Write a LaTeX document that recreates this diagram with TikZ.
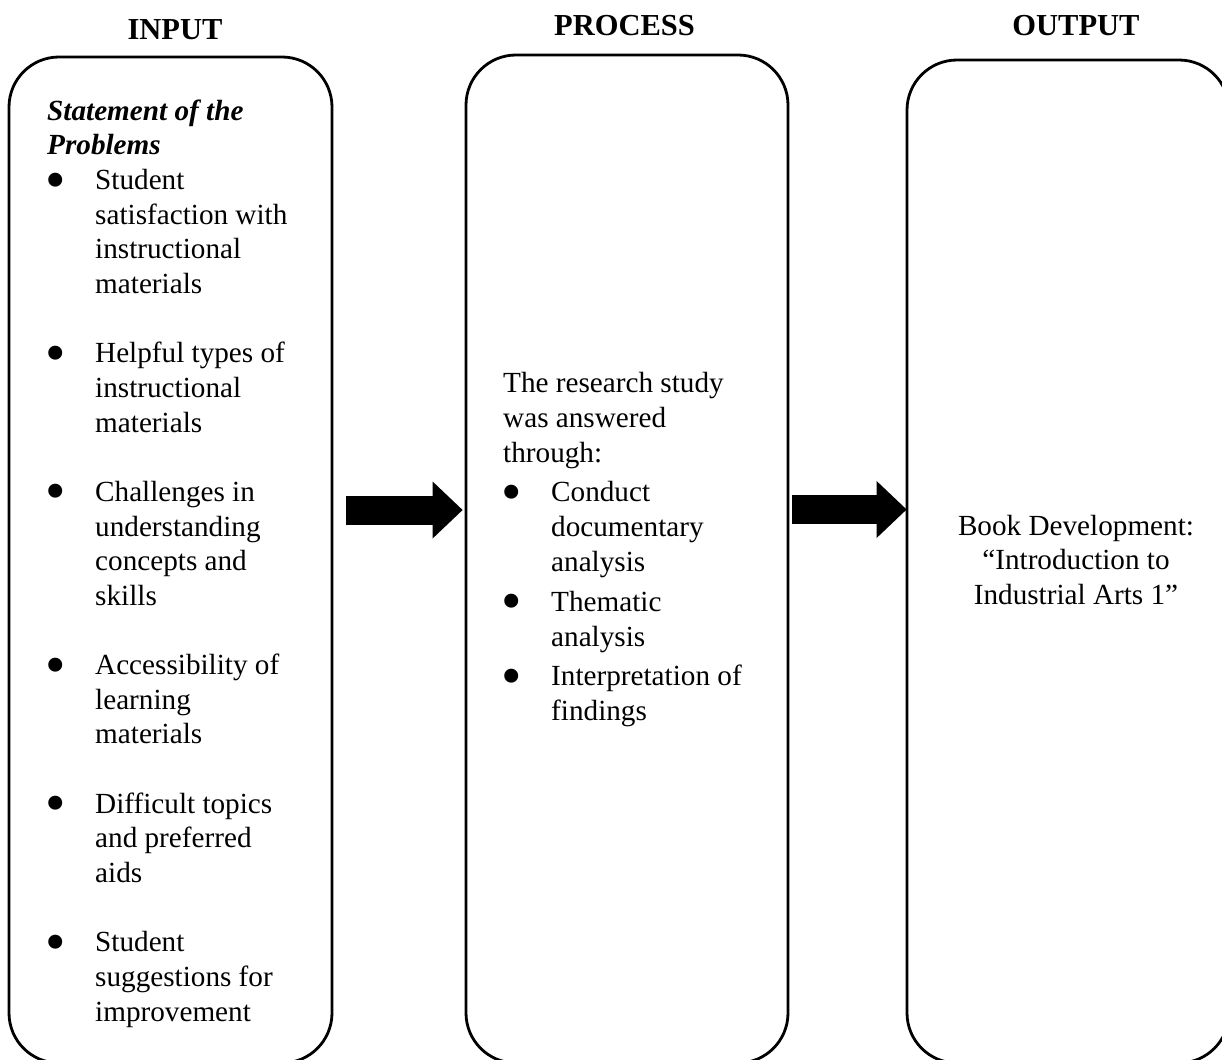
\documentclass[tikz,border=0pt]{standalone}
\usepackage{fontspec}
\usepackage{graphicx}
\setmainfont{Liberation Serif}
\usetikzlibrary{arrows.meta}

% bullet and hanging indent used in the lists
\newcommand\bulletglyph{\hspace*{-1.5pt}\smash{\raisebox{-9.5pt}{\scalebox{2.0}{\textbullet}}}}
\newcommand\bul{\makebox[48pt][l]{\bulletglyph}}
\newcommand\ind{\hspace*{48pt}}
\newcommand\firstline{\rule{0pt}{30pt}}

\begin{document}
\begin{tikzpicture}[x=1pt,y=-1pt,
  panel/.style={draw, line width=2.8pt, rounded corners=50pt, inner sep=0pt},
  head/.style={font=\fontsize{30.5}{34}\selectfont\bfseries, inner sep=0pt, anchor=base},
  body/.style={font=\fontsize{29.2}{34.65}\selectfont, inner sep=0pt, align=left, anchor=north west},
  blockarrow/.style={line width=29pt, -{Triangle[length=30pt,width=57pt,line width=0pt]}}]

\useasboundingbox (0,0) rectangle (1222,1059);
\clip (0,0) rectangle (1222,1059);
\fill[white] (0,0) rectangle (1222,1059);

% column headings
\node[head] (hin)   at (175,40)    {INPUT};
\node[head] (hproc) at (624.5,36)  {PROCESS};
\node[head] (hout)  at (1076,36)   {OUTPUT};

% the three rounded panels
\node[panel, minimum width=323pt, minimum height=1006pt] (inbox)   at (170.5,560) {};
\node[panel, minimum width=322pt, minimum height=1008pt] (procbox) at (627,559)   {};
\node[panel, minimum width=322pt, minimum height=1003pt] (outbox)  at (1068,561.5) {};

% input panel text
\node[body] (intext) at (47,90) {%
\firstline\textbf{\textit{Statement of the}}\\
\textbf{\textit{Problems}}\\
\bul Student\\
\ind satisfaction with\\
\ind instructional\\
\ind materials\\
\mbox{}\\
\bul Helpful types of\\
\ind instructional\\
\ind materials\\
\mbox{}\\
\bul Challenges in\\
\ind understanding\\
\ind concepts and\\
\ind skills\\
\mbox{}\\
\bul Accessibility of\\
\ind learning\\
\ind materials\\
\mbox{}\\
\bul Difficult topics\\
\ind and preferred\\
\ind aids\\
\mbox{}\\
\bul Student\\
\ind suggestions for\\
\ind improvement};

% process panel text
\node[body, font=\fontsize{29.2}{35}\selectfont] (proctext) at (503,362) {%
\firstline The research study\\
was answered\\
through:\\[4.5pt]
\bul Conduct\\
\ind documentary\\
\ind analysis\\[4.5pt]
\bul Thematic\\
\ind analysis\\[4.5pt]
\bul Interpretation of\\
\ind findings};

% output panel text
\node[body, align=center, anchor=north, font=\fontsize{29.2}{34.5}\selectfont] (outtext) at (1076,505) {%
\firstline Book Development:\\
``Introduction to\\
Industrial Arts 1''};

% block arrows between the panels
\coordinate (a1) at (346,510);
\coordinate (a2) at (792,509.5);
\draw[blockarrow] (a1) -- ([xshift=-2pt]procbox.west |- a1);
\draw[blockarrow] (a2) -- ([xshift=1pt]outbox.west |- a2);
\end{tikzpicture}
\end{document}
